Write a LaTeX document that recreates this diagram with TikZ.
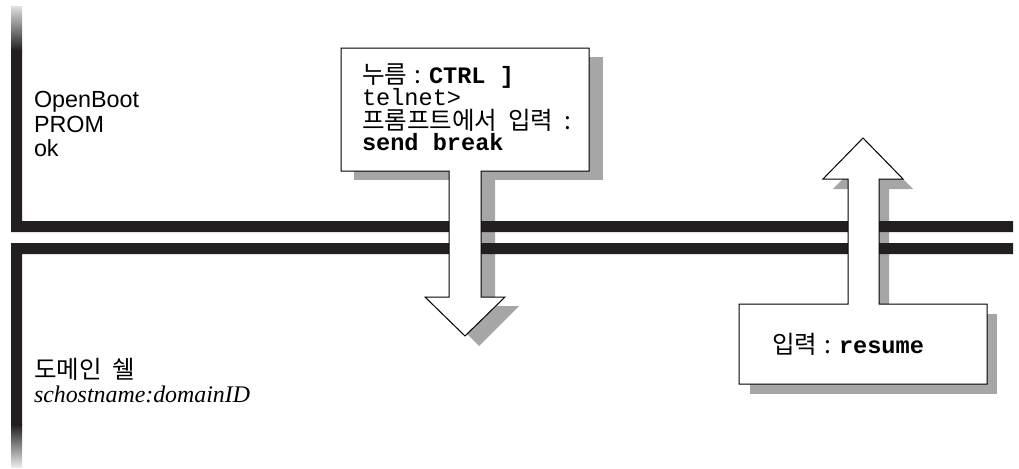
\documentclass[tikz,border=0pt]{standalone}
\usepackage{fontspec}
\setmainfont{Liberation Sans}
\newfontfamily\krfont[WordSpace=2]{Noto Sans CJK KR}
\newfontfamily\krshort[WordSpace=1.3,SizeFeatures={Size=18.41}]{Noto Sans CJK KR}
\newfontfamily\mofont{Liberation Mono}
\newfontfamily\sefont{Liberation Serif}
\definecolor{barcol}{HTML}{231F20}
\definecolor{shadowcol}{HTML}{A6A6A6}
\tikzset{
  txt/.style={anchor=base west,inner sep=0pt,outer sep=0pt,text=black},
  sanslabel/.style={txt,font=\fontsize{17.5}{17.5}\selectfont},
  krlabel/.style={txt,font=\krfont\fontsize{18.4}{18.4}\selectfont},
  krtight/.style={txt,font=\krshort\fontsize{18.4}{18.4}\selectfont},
  monolabel/.style={txt,font=\mofont\fontsize{17.7}{17.7}\selectfont},
  monobold/.style={txt,font=\mofont\bfseries\fontsize{17.7}{17.7}\selectfont},
  serifit/.style={txt,font=\sefont\itshape\fontsize{17.9}{17.9}\selectfont},
  shadowfill/.style={fill=shadowcol,draw=none},
  barfill/.style={fill=barcol,draw=none},
  callout/.style={fill=white,draw=black,line width=0.75pt,line join=miter}
}
\begin{document}
\begin{tikzpicture}[x=0.75pt,y=-0.75pt]
\useasboundingbox (0,0) rectangle (1019,468);
% shadows
\fill[shadowfill] (354,57) -- (603,57) -- (603,180) -- (354,180) -- cycle;
\fill[shadowfill] (463,180) -- (495,180) -- (495,306) -- (519,306) -- (479,346) -- (439,306) -- (463,306) -- cycle;
\fill[shadowfill] (750,314) -- (997,314) -- (997,394) -- (750,394) -- cycle;
\fill[shadowfill] (858,314) -- (858,189) -- (833,189) -- (873,148) -- (913,189) -- (889,189) -- (889,314) -- cycle;
% bars
\fill[barfill] (11,50) -- (22,50) -- (22,221) -- (1013,221) -- (1013,232) -- (11,232) -- cycle;
\fill[barfill] (11,425) -- (22,425) -- (22,254) -- (1013,254) -- (1013,243) -- (11,243) -- cycle;
\shade[top color=black!12,bottom color=barcol] (11,6) rectangle (22,50.5);
\shade[top color=barcol,bottom color=black!8] (11,424.5) rectangle (22,467);
% top callout
\draw[callout] (341,48) -- (589,48) -- (589,171) -- (481,171) -- (481,297) -- (505,297) -- (465,336) -- (425,297) -- (449,297) -- (449,171) -- (341,171) -- cycle;
% bottom callout
\draw[callout] (739,304) -- (848,304) -- (848,179) -- (823,179) -- (863,138) -- (903,179) -- (879,179) -- (879,304) -- (987,304) -- (987,384) -- (739,384) -- cycle;
% left labels
\node[sanslabel] (ob) at (34,107) {OpenBoot};
\node[sanslabel] (prom) at (34,132) {PROM};
\node[sanslabel] (ok) at (34,156) {ok};
\node[krlabel] (dom) at (34,378) {도메인 쉘};
\node[serifit] (sch) at (34,402) {schostname:domainID};
% top callout text
\node[txt,font=\krshort\fontsize{18.41}{18.41}\selectfont] (press) at (362,83) {누름 :};
\node[monobold] (ctrl) at (429,83) {CTRL ]};
\node[monolabel] (tel) at (362,105) {telnet>};
\node[krlabel] (prompt) at (362,129) {프롬프트에서 입력 :};
\node[monobold] (send) at (362,150) {send break};
% bottom callout text
\node[txt,font=\krshort\fontsize{18.41}{18.41}\selectfont] (input) at (772,353) {입력 :};
\node[monobold] (res) at (839,353) {resume};
\end{tikzpicture}
\end{document}
